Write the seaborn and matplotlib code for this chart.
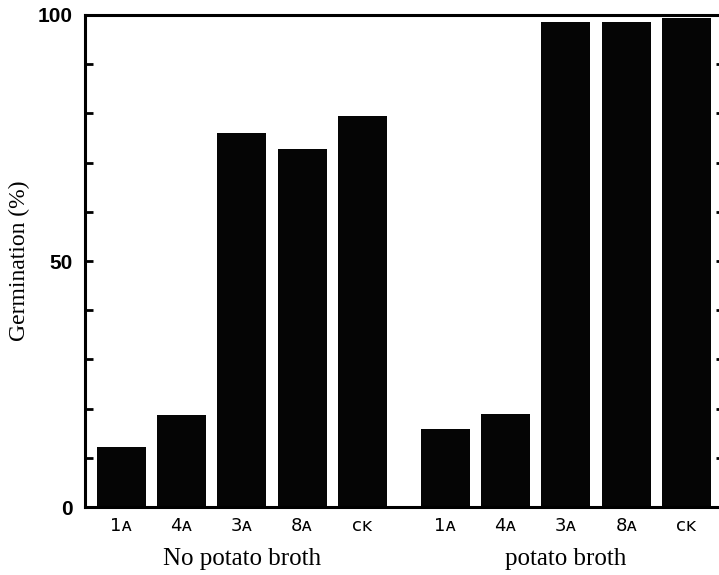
import numpy as np
import pandas as pd
import matplotlib
matplotlib.use("Agg")
import matplotlib.pyplot as plt
import seaborn as sns

# Germination of spores per isolate, without and with potato broth
isolates = ["1ᴀ", "4ᴀ", "3ᴀ", "8ᴀ", "ᴄᴋ"]
no_broth = [12.2, 18.7, 76.0, 72.8, 79.5]
with_broth = [15.9, 18.9, 98.6, 98.6, 99.4]
groups = ["No potato broth", "potato broth"]

group_gap = 5.37  # distance between first bars of the two groups, in bar units
rows = []
for g, vals in enumerate([no_broth, with_broth]):
    for i, (lab, v) in enumerate(zip(isolates, vals)):
        rows.append({"pos": i + g * group_gap, "label": lab,
                     "group": groups[g], "germination": v})
df = pd.DataFrame(rows)

sns.set_style("white")
plt.rcParams.update({"text.color": "black", "axes.labelcolor": "black",
                     "xtick.color": "black", "ytick.color": "black"})
fig = plt.figure(figsize=(7.19, 5.75), dpi=100)
ax = fig.add_axes([0.118, 0.118, 0.889, 0.856])

sns.barplot(data=df, x="pos", y="germination", native_scale=True,
            color="#050505", saturation=1, width=0.81, ax=ax,
            edgecolor="none", linewidth=0)

ax.set_xlim(-0.6, 4 + group_gap + 0.62)
ax.set_ylim(0, 100)

for side in ["left", "bottom", "top", "right"]:
    ax.spines[side].set_visible(True)
    ax.spines[side].set_color("black")
    ax.spines[side].set_linewidth(2.2)

# y axis: labelled 0/50/100, inward ticks every 10
ax.set_yticks([0, 50, 100])
ax.set_yticklabels(["0", "50", "100"], fontsize=15, fontweight="bold",
                   family="Liberation Sans")
ax.set_yticks(np.arange(0, 101, 10), minor=True)
ax.tick_params(axis="y", which="both", direction="in", length=6, width=2,
               left=True, right=True, pad=9, colors="black")
ax.tick_params(axis="y", which="major", labelleft=True, labelright=False)

# x axis: isolate labels under each bar, no tick marks
ax.set_xticks(df["pos"])
ax.set_xticklabels(df["label"], fontsize=13, family="DejaVu Sans")
ax.tick_params(axis="x", length=0, pad=7, colors="black")
ax.set_xlabel("")

ax.set_ylabel("Germination (%)", fontsize=17, family="Liberation Serif",
              color="black")
ax.yaxis.set_label_coords(-0.085, 0.5)

# group captions centred under each set of bars
for g, name in enumerate(groups):
    centre = 2 + g * group_gap
    ax.text(centre, -0.082, name, transform=ax.get_xaxis_transform(),
            ha="center", va="top", fontsize=18, family="Liberation Serif",
            color="black")

fig.savefig("out.png", dpi=100)
